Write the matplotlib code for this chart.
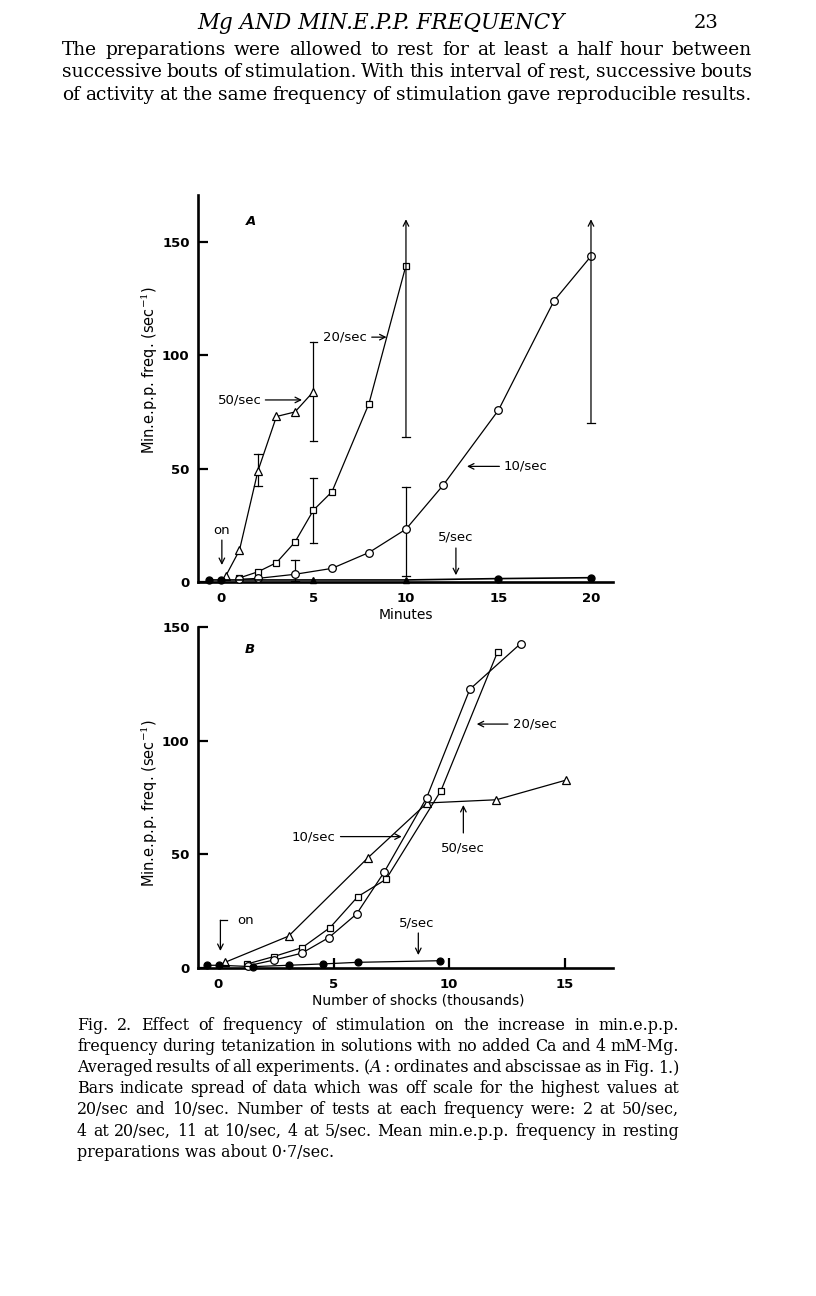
import matplotlib.pyplot as plt

plt.rcParams['mathtext.fontset'] = 'dejavuserif'

W, H = 816, 1296

# ---- panel A: minutes of stimulation ----
a50_x = [0.25, 1, 2, 3, 4, 5]
a50_y = [2.5, 14, 49, 73, 75, 84]
a20_x = [1, 2, 3, 4, 5, 6, 8, 10]
a20_y = [1.8, 4.5, 8.5, 17.6, 31.7, 39.8, 78.7, 139.6]
a10_x = [1, 2, 4, 6, 8, 10, 12, 15, 18, 20]
a10_y = [1.2, 1.6, 3.4, 6.0, 13.0, 23.3, 42.6, 75.8, 124, 143.7]
a5_x = [-0.65, 0, 5, 10, 15, 20]
a5_y = [0.9, 0.9, 0.9, 0.9, 1.5, 1.9]

# error bars (x, low, high); open ones go off scale
a50_bar_x, a50_bar_lo, a50_bar_hi = [2, 5], [42.5, 62], [56.5, 106]
a20_bar_x, a20_bar_lo, a20_bar_hi = [5], [17], [46]
a10_bar_x, a10_bar_lo, a10_bar_hi = [4, 10], [0.5, 2.5], [9.7, 41.7]
off_x = [10, 20]
off_lo = [64, 70]
off_top = 160

# ---- panel B: number of shocks (thousands) ----
b50_x = [0.3, 3.05, 6.5, 9.05, 12.05, 15.05]
b50_y = [2.5, 14, 48.6, 72.6, 74, 82.6]
b20_x = [1.27, 2.4, 3.65, 4.85, 6.05, 7.27, 9.65, 12.1]
b20_y = [1.8, 5.0, 9.0, 17.8, 31.4, 39.0, 78.0, 139.0]
b10_x = [1.3, 2.42, 3.62, 4.8, 6.0, 7.2, 9.03, 10.9, 13.1]
b10_y = [1.0, 3.5, 6.5, 13.4, 23.8, 42.3, 74.9, 122.6, 142.7]
b5_x = [-0.5, 0.05, 1.5, 3.05, 4.55, 6.05, 9.6]
b5_y = [1.2, 1.2, 0.6, 1.2, 1.8, 2.5, 3.2]

sans = 'DejaVu Sans'
serif = 'DejaVu Serif'
LW = 0.9
arrow = dict(arrowstyle='->', lw=0.9, color='black', shrinkA=0, shrinkB=0,
             mutation_scale=10)

fig = plt.figure(figsize=(W / 100, H / 100), dpi=100)


def frac(x0, y0, x1, y1):
    return [x0 / W, 1 - y1 / H, (x1 - x0) / W, (y1 - y0) / H]


def style_axes(ax):
    for s in ['top', 'right']:
        ax.spines[s].set_visible(False)
    for s in ['left', 'bottom']:
        ax.spines[s].set_linewidth(1.9)
    ax.tick_params(axis='y', direction='in', length=7, width=1.6, pad=6,
                   labelsize=9.5)
    ax.tick_params(axis='x', direction='in', length=7, width=1.6, pad=4,
                   labelsize=9.5)
    for lab in ax.get_xticklabels() + ax.get_yticklabels():
        lab.set_fontweight('bold')
        lab.set_family(sans)


def series(ax, x, y, marker, filled=False, ms=5.5):
    ax.plot(x, y, color='black', lw=LW, marker=marker, ms=ms,
            mfc='black' if filled else 'white', mec='black', mew=0.9,
            clip_on=False, zorder=3)


def bars(ax, x, lo, hi):
    for xi, l, h in zip(x, lo, hi):
        ax.plot([xi, xi], [l, h], color='black', lw=LW, zorder=2, clip_on=False)
        for v in (l, h):
            ax.plot([xi - 0.2, xi + 0.2], [v, v], color='black', lw=LW,
                    zorder=2, clip_on=False)


def justify(lines, x0, x1, y0, dy, size, last_full=False):
    # set the lines flush on both sides, like the printed page
    r = fig.canvas.get_renderer()
    for i, line in enumerate(lines):
        y = 1 - (y0 + dy * i) / H
        if i == len(lines) - 1 and not last_full:
            fig.text(x0 / W, y, line, family=serif, fontsize=size, va='center')
            continue
        words = line.split(' ')
        ts = [fig.text(0, y, w, family=serif, fontsize=size, va='center')
              for w in words]
        widths = [t.get_window_extent(r).width for t in ts]
        gap = (x1 - x0 - sum(widths)) / (len(words) - 1)
        x = x0
        for t, wd in zip(ts, widths):
            t.set_x(x / W)
            x += wd + gap


# ---------------- panel A ----------------
axA = fig.add_axes(frac(198, 195, 613, 582))
axA.set_xlim(-1.24, 21.19)
axA.set_ylim(0, 170.7)
axA.set_xticks([0, 5, 10, 15, 20])
axA.set_yticks([0, 50, 100, 150])
style_axes(axA)
axA.tick_params(axis='x', length=0, pad=7)

series(axA, a50_x, a50_y, '^', ms=6)
series(axA, a20_x, a20_y, 's', ms=5)
series(axA, a10_x, a10_y, 'o', ms=5.5)
axA.plot(a5_x, a5_y, color='black', lw=1.2, zorder=3, clip_on=False)
for xi, yi in zip(a5_x, a5_y):
    m = '^' if xi in (5, 10) else 'o'
    axA.plot(xi, yi, marker=m, ms=5, color='black', clip_on=False, zorder=4)

bars(axA, a50_bar_x, a50_bar_lo, a50_bar_hi)
bars(axA, a20_bar_x, a20_bar_lo, a20_bar_hi)
bars(axA, a10_bar_x, a10_bar_lo, a10_bar_hi)
for xi, l in zip(off_x, off_lo):
    axA.plot([xi - 0.2, xi + 0.2], [l, l], color='black', lw=LW)
    axA.annotate('', xy=(xi, off_top), xytext=(xi, l), arrowprops=arrow,
                 annotation_clip=False)

ann = dict(family=sans, fontsize=9.5)
axA.text(1.6, 158.8, 'A', family=sans, style='italic', fontweight='bold',
         fontsize=9.5, ha='center', va='center')
axA.text(2.2, 80.3, '50/sec', ha='right', va='center', **ann)
axA.annotate('', xy=(4.38, 80.3), xytext=(2.4, 80.3), arrowprops=arrow)
axA.text(6.7, 108, '20/sec', ha='center', va='center', **ann)
axA.annotate('', xy=(8.95, 108), xytext=(8.15, 108), arrowprops=arrow)
axA.text(15.25, 51, '10/sec', ha='left', va='center', **ann)
axA.annotate('', xy=(13.3, 51), xytext=(15.05, 51), arrowprops=arrow)
axA.text(0.05, 22.5, 'on', ha='center', va='center', **ann)
axA.annotate('', xy=(0.05, 7.5), xytext=(0.05, 18.5), arrowprops=arrow)
axA.text(12.7, 20, '5/sec', ha='center', va='center', **ann)
axA.annotate('', xy=(12.7, 3), xytext=(12.7, 15), arrowprops=arrow)

fig.text(406 / W, 1 - 615 / H, 'Minutes', family=sans, fontsize=10,
         ha='center', va='center')
fig.text(150 / W, 1 - 370 / H, 'Min.e.p.p. freq. (sec$^{-1}$)', family=sans,
         fontsize=10.5, rotation=90, ha='center', va='center')

# ---------------- panel B ----------------
axB = fig.add_axes(frac(198, 627, 613, 968))
axB.set_xlim(-0.87, 17.1)
axB.set_ylim(0, 150)
axB.set_xticks([0, 5, 10, 15])
axB.set_yticks([0, 50, 100, 150])
style_axes(axB)
axB.tick_params(axis='x', pad=7)
axB.xaxis.get_major_ticks()[0].tick1line.set_visible(False)

series(axB, b50_x, b50_y, '^', ms=6)
series(axB, b20_x, b20_y, 's', ms=5)
series(axB, b10_x, b10_y, 'o', ms=5.5)
series(axB, b5_x, b5_y, 'o', filled=True, ms=5)

axB.text(1.39, 140, 'B', family=sans, style='italic', fontweight='bold',
         fontsize=9.5, ha='center', va='center')
axB.text(12.75, 107.3, '20/sec', ha='left', va='center', **ann)
axB.annotate('', xy=(11.2, 107.3), xytext=(12.55, 107.3), arrowprops=arrow)
axB.text(5.1, 57.8, '10/sec', ha='right', va='center', **ann)
axB.annotate('', xy=(7.95, 57.8), xytext=(5.3, 57.8), arrowprops=arrow)
axB.text(10.62, 53, '50/sec', ha='center', va='center', **ann)
axB.annotate('', xy=(10.62, 71.7), xytext=(10.62, 59.4), arrowprops=arrow)
axB.plot([0.1, 0.4], [21, 21], color='black', lw=LW)
axB.annotate('', xy=(0.1, 7.5), xytext=(0.1, 21), arrowprops=arrow)
axB.text(0.85, 21, 'on', ha='left', va='center', **ann)
axB.text(8.6, 20, '5/sec', ha='center', va='center', **ann)
axB.annotate('', xy=(8.67, 5.7), xytext=(8.67, 15.4), arrowprops=arrow)

fig.text(418 / W, 1 - 1001 / H, 'Number of shocks (thousands)', family=sans,
         fontsize=10, ha='center', va='center')
fig.text(150 / W, 1 - 803 / H, 'Min.e.p.p. freq. (sec$^{-1}$)', family=sans,
         fontsize=10.5, rotation=90, ha='center', va='center')

# ---------------- page text ----------------
fig.text(381 / W, 1 - 23 / H, 'Mg AND MIN.E.P.P. FREQUENCY', family=serif,
         style='italic', fontsize=15.5, ha='center', va='center')
fig.text(719 / W, 1 - 23 / H, '23', family=serif, fontsize=14, ha='right',
         va='center')

para = ['The preparations were allowed to rest for at least a half hour between',
        'successive bouts of stimulation. With this interval of rest, successive bouts',
        'of activity at the same frequency of stimulation gave reproducible results.']
justify(para, 62, 752, 50, 22.3, 13.4, last_full=True)

caption = ['Fig. 2. Effect of frequency of stimulation on the increase in min.e.p.p.',
           'frequency during tetanization in solutions with no added Ca and 4 mM-Mg.',
           'Averaged results of all experiments. ($\\mathit{A}$ : ordinates and abscissae as in Fig. 1.)',
           'Bars indicate spread of data which was off scale for the highest values at',
           '20/sec and 10/sec. Number of tests at each frequency were: 2 at 50/sec,',
           '4 at 20/sec, 11 at 10/sec, 4 at 5/sec. Mean min.e.p.p. frequency in resting',
           'preparations was about 0\u00b77/sec.']
justify(caption, 77, 679, 1025, 21.2, 11.4)

fig.savefig('out.png', dpi=100)
